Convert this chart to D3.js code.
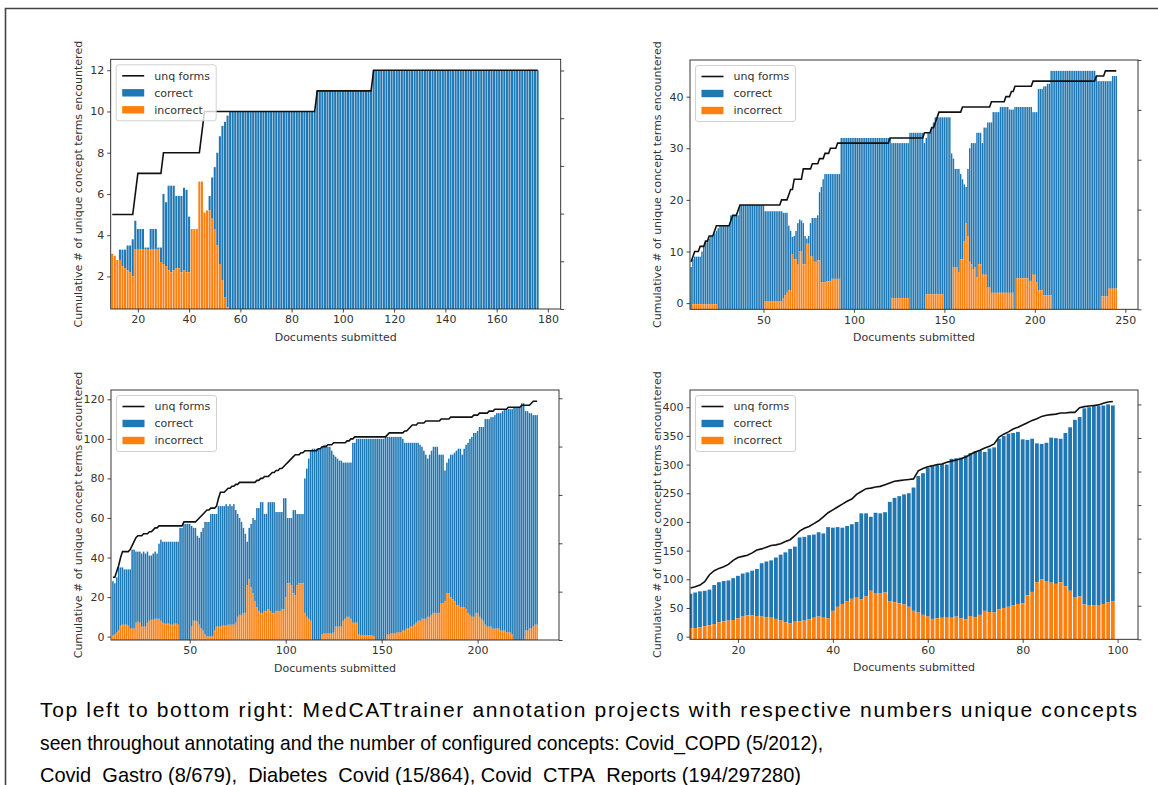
<!DOCTYPE html>
<html>
<head>
<meta charset="utf-8">
<script src="https://cdn.jsdelivr.net/npm/d3@7"></script>
<style>
  body { margin: 0; background: #fff; }
  svg { display: block; }
  .tick text, .lbl, .leg { font-family: "DejaVu Sans", sans-serif; fill: #333; }
  .cap { font-family: "Liberation Sans", Arial, sans-serif; fill: #000; white-space: pre; }
</style>
</head>
<body>
<div id="chart"></div>
<script>
// ---- Covid_COPD (top left), documents 10..176 ----
const tlFirstDoc = 10;
const tlUnq = [
  5,5,5,5,5,5,5,5,5,6,
  7,7,7,7,7,7,7,7,7,7,
  8,8,8,8,8,8,8,8,8,8,
  8,8,8,8,8,9,10,10,10,10,
  10,10,10,10,10,10,10,10,10,10,
  10,10,10,10,10,10,10,10,10,10,
  10,10,10,10,10,10,10,10,10,10,
  10,10,10,10,10,10,10,10,10,10,
  11,11,11,11,11,11,11,11,11,11,
  11,11,11,11,11,11,11,11,11,11,
  11,11,12,12,12,12,12,12,12,12,
  12,12,12,12,12,12,12,12,12,12,
  12,12,12,12,12,12,12,12,12,12,
  12,12,12,12,12,12,12,12,12,12,
  12,12,12,12,12,12,12,12,12,12,
  12,12,12,12,12,12,12,12,12,12,
  12,12,12,12,12,12,12
];
// top of the stacked "correct" bar
const tlCorrect = [
  3.1,3.0,2.8,3.3,3.3,3.3,3.5,3.5,3.8,4.7,
  4.3,4.3,4.3,3.4,3.4,4.3,4.3,4.3,3.4,3.4,
  6.0,5.6,6.4,6.4,6.4,5.9,5.9,5.9,6.3,6.2,
  4.9,4.3,4.3,4.3,6.6,6.6,5.1,5.2,5.9,6.8,
  7.3,8.0,8.8,9.3,9.5,9.8,10,10,10,10,
  10,10,10,10,10,10,10,10,10,10,
  10,10,10,10,10,10,10,10,10,10,
  10,10,10,10,10,10,10,10,10,10,
  11,11,11,11,11,11,11,11,11,11,
  11,11,11,11,11,11,11,11,11,11,
  11,11,12,12,12,12,12,12,12,12,
  12,12,12,12,12,12,12,12,12,12,
  12,12,12,12,12,12,12,12,12,12,
  12,12,12,12,12,12,12,12,12,12,
  12,12,12,12,12,12,12,12,12,12,
  12,12,12,12,12,12,12,12,12,12,
  12,12,12,12,12,12,12
];
const tlIncorrect = [
  3.1,3.0,2.8,2.8,2.5,2.4,2.3,2.2,2.0,3.3,
  3.3,3.3,3.3,3.3,3.3,3.3,3.3,3.3,3.3,2.7,
  2.6,2.5,2.3,2.2,2.3,2.4,2.4,2.2,2.3,2.2,
  2.2,4.3,4.3,4.3,6.6,6.6,5.1,5.2,5.2,4.8,
  4.3,3.5,2.6,1.8,1.0,0.5,0,0,0,0,
  0,0,0,0,0,0,0,0,0,0,
  0,0,0,0,0,0,0,0,0,0,
  0,0,0,0,0,0,0,0,0,0,
  0,0,0,0,0,0,0,0,0,0,
  0,0,0,0,0,0,0,0,0,0,
  0,0,0,0,0,0,0,0,0,0,
  0,0,0,0,0,0,0,0,0,0,
  0,0,0,0,0,0,0,0,0,0,
  0,0,0,0,0,0,0,0,0,0,
  0,0,0,0,0,0,0,0,0,0,
  0,0,0,0,0,0,0,0,0,0,
  0,0,0,0,0,0,0
];
const tlXTicks = [20, 40, 60, 80, 100, 120, 140, 160, 180];
const tlYTicks = [2, 4, 6, 8, 10, 12];

// ---- Covid_Gastro (top right), documents 10..245 ----
const trFirstDoc = 10;
const trUnq = [
  8,9,10,10,10,11,11,11,12,12,
  13,13,13,14,15,15,15,15,15,15,
  15,15,16,17,17,17,18,19,19,19,
  19,19,19,19,19,19,19,19,19,19,
  19,19,19,19,19,19,19,19,19,19,
  20,20,20,20,21,22,22,24,24,24,
  24,24,26,26,26,26,26,27,27,27,
  27,28,28,28,29,29,29,30,30,30,
  30,31,31,31,31,31,31,31,31,31,
  31,31,31,31,31,31,31,31,31,31,
  31,31,31,31,31,31,31,31,31,31,
  32,32,32,32,32,32,32,32,32,32,
  32,32,32,32,32,32,32,32,32,33,
  33,33,33,34,34,35,36,37,37,37,
  37,37,37,37,37,37,37,37,37,37,
  38,38,38,38,38,38,38,38,38,38,
  38,38,38,38,38,38,39,39,39,39,
  39,39,39,39,40,40,40,41,41,42,
  42,42,42,42,42,42,42,42,42,43,
  43,43,43,43,43,43,43,43,43,43,
  43,43,43,43,43,43,43,43,43,43,
  43,43,43,43,43,43,43,43,43,43,
  43,43,43,43,44,44,44,44,44,45,
  45,45,45,45,45,45
];
const trCorrect = [
  7,8.5,9,9,9,9,10,11,12,12,
  12.5,13,13,13.5,14,14.5,15,15,15,15,
  15,15,17,17,17,17,17,19,19,19,
  19,19,19,19,19,19,19,19,19,19,
  19,17.8,17.8,17.8,17.8,17.8,17.8,17.8,17.8,17.8,
  17.8,17.5,17.5,17.5,15,14,12.8,13,14,15.5,
  16.2,16,15.5,13,12.5,13,15.5,16.5,16.5,16.5,
  17,21.5,22.5,24,25,25,25,25,25,25,
  25,25,25,32,32,32,32,32,32,32,
  32,32,32,32,32,32,32,32,32,32,
  32,32,32,32,32,32,32,32,32,32,
  32,31,31,31,31,31,31,31,31,31,
  31,33,33,33,33,33,33,33,33,31,
  32,33,33,34,35,36,36,36,36,36,
  36,36,36,36,29,28,26,26,26,25,
  24,23,22.5,26,30,31,31,31,33,33,
  33,31,34,34,35,35,35,37,37,37,
  37,38,38,38,38,38,37.5,37.5,37.5,38,
  38,38,38,38,38,38,38,38,38,37,
  37,37,41.5,41.5,41.5,42,42,42.5,42.5,45,
  45,45,45,45,45,45,45,45,45,45,
  45,45,45,45,45,45,45,45,45,45,
  45,45,45,45,44,43,43,43,43,43,
  43,43,43,44,44,44
];
const trIncorrect = [
  -1.2,-0.2,-0.2,-0.2,-0.2,-0.2,-0.2,-0.2,-0.2,-0.2,
  -0.2,-0.2,-0.2,-0.2,-0.2,-1.2,-1.2,-1.2,-1.2,-1.2,
  -1.2,-1.2,-1.2,-1.2,-1.2,-1.2,-1.2,-1.2,-1.2,-1.2,
  -1.2,-1.2,-1.2,-1.2,-1.2,-1.2,-1.2,-1.2,-1.2,-1.2,
  -1.2,0.3,0.3,0.3,0.3,0.3,0.3,0.3,0.3,0.3,
  0.3,1.0,1.5,2.0,2.5,2.5,9.5,8.5,8.5,7.5,
  10,10,7.5,7.5,11.5,11.5,9,9,8,8,
  8.3,8.3,4,4,4,4.2,4.2,4.2,4.7,4.7,
  4.7,4.7,4.7,-1.2,-1.2,-1.2,-1.2,-1.2,-1.2,-1.2,
  -1.2,-1.2,-1.2,-1.2,-1.2,-1.2,-1.2,-1.2,-1.2,-1.2,
  -1.2,-1.2,-1.2,-1.2,-1.2,-1.2,-1.2,-1.2,-1.2,-1.2,
  -1.2,1,1,1,1,1,1,1,1,1,
  1,-1.2,-1.2,-1.2,-1.2,-1.2,-1.2,-1.2,-1.2,-1.2,
  1.7,1.7,1.7,1.7,1.7,1.7,1.7,1.7,1.7,1.7,
  -1.2,-1.2,-1.2,-1.2,-1.2,7,7,7,6,8.5,
  8.5,12,15.5,13,8,7.5,6.5,7,5,7.5,
  7.5,5.5,5.5,5.5,3,3,2,2,2,2,
  2,2,2,2,2,2,2,2,2,-1.2,
  4.8,4.8,4.8,4.8,4.8,4.8,4.8,4.3,4.3,5.5,
  5.5,4,2.5,2.5,2.5,1.5,1.5,1.5,1.5,1.5,
  -1.2,-1.2,-1.2,-1.2,-1.2,-1.2,-1.2,-1.2,-1.2,-1.2,
  -1.2,-1.2,-1.2,-1.2,-1.2,-1.2,-1.2,-1.2,-1.2,-1.2,
  -1.2,-1.2,-1.2,-1.2,-1.2,-1.2,-1.2,1.3,1.3,1.3,
  1.3,2.8,2.8,2.8,2.8,2.8
];
const trXTicks = [50, 100, 150, 200, 250];
const trYTicks = [0, 10, 20, 30, 40];

// ---- Diabetes_Covid (bottom left), documents 10..231 ----
const blFirstDoc = 10;
const blUnq = [
  30,30,33,36,40,43,43,43,43,44,
  46,48,50,51,51,51,52,52,52,53,
  53,54,55,55,56,56,56,56,56,56,
  56,56,56,56,56,56,56,58,58,58,
  58,58,58,58,59,60,61,62,63,64,
  64,65,65,65,66,70,73,73,73,74,
  75,75,76,76,77,77,78,78,78,78,
  78,78,78,78,78,79,79,80,80,81,
  81,81,82,83,83,84,84,85,85,86,
  87,88,89,90,91,92,92,92,93,93,
  94,94,94,94,94,94,94,95,95,96,
  96,96,97,97,97,98,98,98,98,98,
  98,98,99,99,100,100,101,101,101,101,
  101,101,101,101,101,101,101,101,101,101,
  101,101,101,102,103,103,103,103,103,103,
  103,103,104,104,105,106,107,107,107,108,
  108,108,108,109,109,109,109,109,109,109,
  109,110,110,110,110,110,111,111,111,111,
  111,111,111,111,111,111,111,111,112,112,
  112,113,113,113,113,113,114,114,114,115,
  115,115,115,115,115,115,116,116,116,116,
  116,116,116,117,117,117,117,117,118,119,
  119,119
];
const blCorrect = [
  28,27,30,35,35,35,34,34,34,34,
  44,44,43,43,43,42,43,42,43,41,
  41,42,43,42,47,49,48,48,48,48,
  48,48,48,48,48,55,55,57,57,57,
  57,56,55,55,51,50,53,55,58,58,
  58,62,62,62,62,66,66,66,66,67,
  66,67,66,67,64,62,60,58,55,52,
  48,55,57,60,59,65,65,68,68,62,
  62,68,68,68,68,63,63,63,63,70,
  70,60,60,60,64,64,62,62,62,62,
  80,85,90,94,95,95,95,95,95,96,
  97,97,96,96,94,92,91,90,89,89,
  88,88,88,88,88,98,98,100,100,100,
  100,100,100,100,100,100,100,100,100,100,
  100,100,101,101,101,101,101,101,101,101,
  101,100,98,98,98,98,98,98,98,98,
  97,96,94,92,90,92,94,96,96,96,
  92,92,92,84,88,90,92,92,93,94,
  95,95,92,95,97,98,100,101,103,103,
  104,106,106,106,110,110,110,111,111,112,
  113,113,113,114,115,115,115,115,115,116,
  116,116,116,118,118,114,114,113,113,112,
  112,112
];
const blIncorrect = [
  0.5,1,2,3,5.5,6,6,6,5.5,4,
  4,4,7,7.5,7,5,5,5,7,8,
  8.5,8.5,9,9,9,8,7,6.5,6.5,6.5,
  6,6,6.5,6.5,6,-1.7,-1.7,-1.7,-1.7,-1.7,
  -1.7,5,8,8,7.5,6,4,3,1,0,
  0,0,0,3,5,5,5,5.5,5.5,5.5,
  6,6,6,6,7,10,11,11,12,12,
  26,29,25,22,18,15,13,12,12,13,
  13,14,13,12,12,13,13,13,14,14,
  20,27,27,26,22,21,26,27,27,27,
  12,10,9,8,-1.7,-1.7,-1.7,-1.7,-1.7,1,
  1.5,1.5,1.5,1.5,1.5,2,5,5,5,5,
  8,9,10,10,9,7,7,7,1,0.5,
  0.5,0.5,0.5,0.5,0.5,0.5,0,-1.7,-1.7,-1.7,
  -1.7,-1.7,-1.7,1,1,1.5,1.5,1.5,2,2,
  2,3,3,4,4,5,5,6,7,8,
  8,9,9,9,10,10,11,12,12,12,
  12,17,17,18,22,22,20,19,18,16,
  16,15,15,15,14,12,11,10,10,12,
  12,10,9,8,6,5,5,5,4,4,
  4,4,3,3,3,2,2,2,1,-1.7,
  -1.7,-1.7,-1.7,-1.7,-1.7,3,3,4,4,5,
  6,6
];
const blXTicks = [50, 100, 150, 200];
const blYTicks = [0, 20, 40, 60, 80, 100, 120];

// ---- Covid_CTPA_Reports (bottom right), documents 10..99 ----
const brFirstDoc = 10;
const brUnq = [
  85,87,90,96,108,115,119,122,126,133,
  138,140,142,146,151,153,156,159,160,162,
  166,169,176,184,189,192,197,202,209,216,
  221,226,231,236,240,248,253,258,259,261,
  262,265,268,271,272,273,274,275,289,293,
  296,298,300,301,304,306,308,310,313,318,
  322,325,329,332,336,348,353,357,362,365,
  369,373,377,380,384,386,387,388,390,390,
  391,391,399,401,402,403,404,407,409,410
];
const brCorrect = [
  75,77,79,80,82,90,95,97,98,102,
  106,110,112,115,118,128,131,133,138,143,
  147,153,157,173,174,177,178,182,180,191,
  190,191,190,193,196,200,215,215,209,216,
  215,217,235,242,245,248,250,260,280,285,
  294,299,300,301,300,310,311,312,316,320,
  323,325,322,328,330,345,350,354,355,357,
  344,343,345,337,336,338,347,346,345,355,
  365,378,383,398,400,402,402,403,405,403
];
const brIncorrect = [
  15,15,16,18,20,22,25,27,28,29,
  32,35,37,37,36,35,34,33,31,28,
  25,23,26,27,28,30,33,35,33,32,
  45,52,57,62,66,68,65,70,80,75,
  76,77,62,60,58,56,52,45,42,38,
  35,31,32,33,33,33,35,32,30,36,
  34,38,45,43,42,48,50,52,55,57,
  58,72,78,95,100,97,94,92,95,88,
  80,68,70,56,54,55,54,57,60,62
];
const brXTicks = [20, 40, 60, 80, 100];
const brYTicks = [0, 50, 100, 150, 200, 250, 300, 350, 400];

const legendLabels = ['unq forms', 'correct', 'incorrect'];
const xLabel = 'Documents submitted';
const yLabel = 'Cumulative # of unique concept terms encountered';
const captionLines = [
  'Top left to bottom right: MedCATtrainer annotation projects with respective numbers unique concepts',
  'seen throughout annotating and the number of configured concepts: Covid_COPD (5/2012),',
  'Covid_Gastro (8/679),  Diabetes_Covid (15/864), Covid_CTPA_Reports (194/297280)'
];

const blue = '#1f77b4';
const orange = '#ff7f0e';

const svg = d3.select('#chart')
  .append('svg')
  .attr('width', 1158)
  .attr('height', 785);

// page frame (top and left edge of the scanned figure)
svg.append('path')
  .attr('d', 'M5.5,785 V8.5 H1158')
  .attr('fill', 'none')
  .attr('stroke', '#444')
  .attr('stroke-width', 1.6);

let clipCount = 0;

const drawPanel = props => {

  const { left, top, width, height, firstDoc, unq, correct, incorrect,
    xDomain, yDomain, xTicks, yTicks, twinDomain, twinTicks } = props;

  const g = svg.append('g')
    .attr('transform', `translate(${left}, ${top})`);

  const scaleX = d3.scaleLinear().domain(xDomain).range([0, width]);
  const scaleY = d3.scaleLinear().domain(yDomain).range([height, 0]);
  const twinY = d3.scaleLinear().domain(twinDomain).range([height, 0]);
  const base = yDomain[0];

  const rows = unq.map((u, i) => ({
    doc: firstDoc + i,
    unq: u,
    top: correct[i],
    inc: Math.max(incorrect[i], base)
  }));

  const clipId = `clip${clipCount++}`;
  g.append('clipPath').attr('id', clipId)
    .append('rect').attr('width', width).attr('height', height);

  const plot = g.append('g').attr('clip-path', `url(#${clipId})`);
  const barW = scaleX(0.8) - scaleX(0);

  plot.append('g')
    .selectAll('rect')
    .data(rows)
    .join('rect')
    .attr('x', d => scaleX(d.doc - 0.4))
    .attr('width', barW)
    .attr('y', d => scaleY(d.top))
    .attr('height', d => Math.max(0, scaleY(d.inc) - scaleY(d.top)))
    .attr('fill', blue);

  plot.append('g')
    .selectAll('rect')
    .data(rows.filter(d => d.inc > base))
    .join('rect')
    .attr('x', d => scaleX(d.doc - 0.4))
    .attr('width', barW)
    .attr('y', d => scaleY(d.inc))
    .attr('height', d => scaleY(base) - scaleY(d.inc))
    .attr('fill', orange);

  const line = d3.line()
    .x(d => scaleX(d.doc))
    .y(d => scaleY(d.unq));

  plot.append('path')
    .datum(rows)
    .attr('d', line)
    .attr('fill', 'none')
    .attr('stroke', '#111')
    .attr('stroke-width', 1.6);

  g.append('g')
    .attr('transform', `translate(0, ${height})`)
    .call(d3.axisBottom(scaleX).tickValues(xTicks).tickSize(3.5).tickPadding(3))
    .call(a => a.select('.domain').remove());

  g.append('g')
    .call(d3.axisLeft(scaleY).tickValues(yTicks).tickSize(3.5).tickPadding(3))
    .call(a => a.select('.domain').remove());

  g.append('g')
    .attr('transform', `translate(${width}, 0)`)
    .call(d3.axisRight(twinY).tickValues(twinTicks).tickFormat('').tickSize(3.5))
    .call(a => a.select('.domain').remove());

  g.selectAll('.tick line').attr('stroke', '#333').attr('stroke-width', 0.9);
  g.selectAll('.tick text').attr('font-size', 11);

  g.append('rect')
    .attr('width', width)
    .attr('height', height)
    .attr('fill', 'none')
    .attr('stroke', '#222')
    .attr('stroke-width', 0.9);

  g.append('text')
    .attr('class', 'lbl')
    .attr('x', width / 2)
    .attr('y', height + 32)
    .attr('text-anchor', 'middle')
    .attr('font-size', 11)
    .text(xLabel);

  g.append('text')
    .attr('class', 'lbl')
    .attr('transform', `translate(-33, ${height / 2}) rotate(-90)`)
    .attr('text-anchor', 'middle')
    .attr('dy', '0.35em')
    .attr('font-size', 11)
    .text(yLabel);

  // legend, upper left
  const leg = g.append('g').attr('transform', 'translate(5.5, 5.5)');
  leg.append('rect')
    .attr('width', 100)
    .attr('height', 56)
    .attr('rx', 2.5)
    .attr('fill', '#fff')
    .attr('fill-opacity', 0.8)
    .attr('stroke', '#ccc')
    .attr('stroke-width', 0.9);

  legendLabels.forEach((label, i) => {
    const cy = 11 + i * 17;
    if (i === 0) {
      leg.append('line')
        .attr('x1', 6).attr('x2', 28)
        .attr('y1', cy).attr('y2', cy)
        .attr('stroke', '#111').attr('stroke-width', 1.6);
    } else {
      leg.append('rect')
        .attr('x', 6).attr('y', cy - 3.7)
        .attr('width', 22).attr('height', 7.4)
        .attr('fill', i === 1 ? blue : orange);
    }
    leg.append('text')
      .attr('class', 'leg')
      .attr('x', 38)
      .attr('y', cy)
      .attr('dy', '0.35em')
      .attr('font-size', 11)
      .text(label);
  });

  return { g, scaleX, scaleY };
};

drawPanel({
  left: 110.7, top: 59.3, width: 450, height: 249.7,
  firstDoc: tlFirstDoc, unq: tlUnq, correct: tlCorrect, incorrect: tlIncorrect,
  xDomain: [9.4, 185], yDomain: [0.42, 12.53],
  xTicks: tlXTicks, yTicks: tlYTicks,
  twinDomain: [0, 1.047], twinTicks: [0, 0.2, 0.4, 0.6, 0.8, 1.0]
});

drawPanel({
  left: 690, top: 60, width: 448, height: 249.3,
  firstDoc: trFirstDoc, unq: trUnq, correct: trCorrect, incorrect: trIncorrect,
  xDomain: [9.4, 257], yDomain: [-1.2, 47.1],
  xTicks: trXTicks, yTicks: trYTicks,
  twinDomain: [0, 1], twinTicks: [0, 0.2, 0.4, 0.6, 0.8, 1.0]
});

drawPanel({
  left: 111, top: 390, width: 448, height: 250,
  firstDoc: blFirstDoc, unq: blUnq, correct: blCorrect, incorrect: blIncorrect,
  xDomain: [9.0, 242.4], yDomain: [-1.7, 124.7],
  xTicks: blXTicks, yTicks: blYTicks,
  twinDomain: [0, 1.034], twinTicks: [0, 0.2, 0.4, 0.6, 0.8, 1.0]
});

drawPanel({
  left: 690, top: 390, width: 448, height: 249.3,
  firstDoc: brFirstDoc, unq: brUnq, correct: brCorrect, incorrect: brIncorrect,
  xDomain: [9.9, 104.3], yDomain: [-4.6, 430],
  xTicks: brXTicks, yTicks: brYTicks,
  twinDomain: [0, 7.43], twinTicks: [0, 1, 2, 3, 4, 5, 6, 7]
});

// caption below the figure: the first line is spread to the right margin,
// the two following lines end with a manual break
const captionWidths = [1097, 783, 761];
const caption = svg.append('g');
captionLines.forEach((line, i) => {
  caption.append('text')
    .attr('class', 'cap')
    .attr('x', 40)
    .attr('y', [717, 749.5, 782][i])
    .attr('font-size', 21)
    .attr('textLength', captionWidths[i])
    .attr('lengthAdjust', i === 0 ? 'spacing' : 'spacingAndGlyphs')
    .text(line);
});
</script>
</body>
</html>
